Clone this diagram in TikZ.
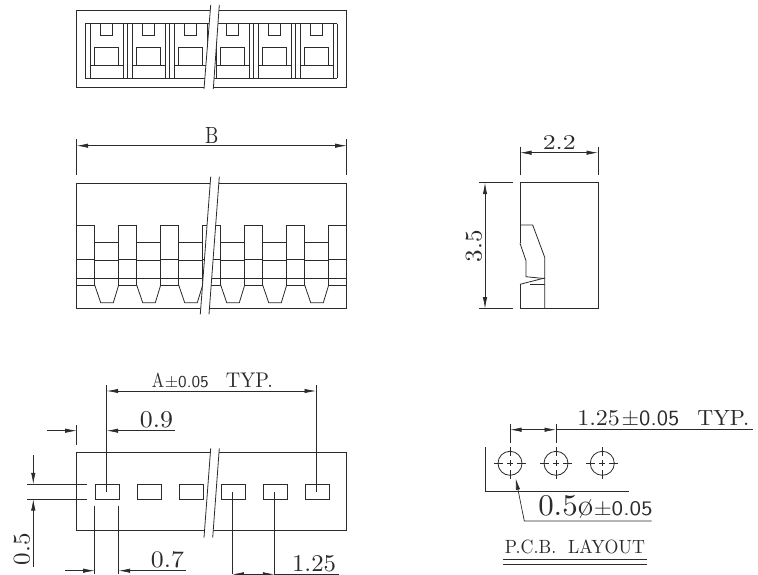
\documentclass[tikz,border=0pt]{standalone}
\usepackage{fontspec}
\usepackage{graphicx}
\usetikzlibrary{arrows.meta}
\newcommand{\tolfont}{\sffamily}
\definecolor{ink}{HTML}{2B2B2B}
\newcommand{\fittext}[3]{\resizebox{#1pt}{#2pt}{#3}}
\tikzset{
  part/.style={draw=ink,line width=0.8pt,line join=miter},
  dimln/.style={draw=ink,line width=0.7pt},
  extln/.style={draw=ink,line width=0.7pt},
  dimarrow/.style={draw=ink,line width=0.7pt,-{Latex[length=11.5pt,width=4.4pt]}},
  dimboth/.style={draw=ink,line width=0.7pt,{Latex[length=11.5pt,width=4.4pt]}-{Latex[length=11.5pt,width=4.4pt]}},
  lbl/.style={inner sep=0pt,outer sep=0pt,text=ink},
  breakfill/.style={fill=white,draw=none},
  breakln/.style={draw=ink,line width=0.8pt},
}
\begin{document}
\begin{tikzpicture}[x=1pt,y=-1pt]
\useasboundingbox[fill=white] (0,0) rectangle (758,575);

% ---------- top view ----------
\draw[part] (76.7,10) rectangle (346.7,87.7);
\draw[part] (85.3,23.7) -- (337.3,23.7) (85.3,78.3) -- (337.3,78.3);
\foreach \s in {85.3,127.3,169.3,211.3,253.3,295.3}{
  \begin{scope}[shift={(\s,0)}]
    \draw[part] (0.2,23.7) -- (0.2,78.3);
    \draw[part] (5.4,23.7) -- (5.4,78.3);
    \draw[part] (38,23.7) -- (38,78.3);
    \draw[part] (15.4,23.7) -- (15.4,35.7) -- (27.4,35.7) -- (27.4,23.7);
    \draw[part] (9.4,65.7) -- (9.4,47.3) -- (33.4,47.3) -- (33.4,65.7);
    \draw[part] (5.4,65.7) -- (38,65.7);
    \draw[part] (41.6,23.7) -- (41.6,78.3);
  \end{scope}
}
\fill[breakfill] (210.7,5) -- (219.3,5) -- (213.3,89) -- (204,89) -- cycle;
\draw[breakln] (210.7,5) -- (204,89) (219.3,5) -- (213.3,89);

% ---------- front view ----------
\draw[part] (76.7,225) -- (76.7,183) -- (346.7,183) -- (346.7,225);
\draw[part] (76.7,225) -- (76.7,308.3) -- (346.7,308.3) -- (346.7,225);
\draw[part] (76.7,278.7) -- (346.7,278.7);
\foreach \s in {76.7,118.7,160.7,202.7,244.7,286.7,328.7}{
  \draw[part] (\s,285) -- (\s,225) -- ({\s+18},225) -- ({\s+18},285);
  \draw[part] (\s,259.3) -- ({\s+18},259.3);
  \draw[part] (\s,285) -- ({\s+18},285);
}
\foreach \s in {94.7,136.7,178.7,220.7,262.7,304.7}{
  \draw[part] (\s,242.7) -- ({\s+24},242.7);
  \draw[part] (\s,260.7) -- ({\s+24},260.7);
  \draw[part] (\s,285) -- ({\s+6},302.7) -- ({\s+18.6},302.7) -- ({\s+24},285);
}
\fill[breakfill] (210.7,176.7) -- (219.3,176.7) -- (209,314.3) -- (200.3,314.3) -- cycle;
\draw[breakln] (210.7,176.7) -- (200.3,314.3) (219.3,176.7) -- (209,314.3);

% B dimension
\coordinate (bl) at (76.7,145.7);
\coordinate (br) at (346.7,145.7);
\draw[extln] (76.7,139.3) -- (76.7,175) (346.7,139.3) -- (346.7,175);
\draw[dimboth] (bl) -- (br);
\node[lbl] (tb) at (211.7,135.3) {\fittext{13.3}{16}{B}};

% ---------- side view ----------
\draw[part] (520,243.3) -- (520,182.7) -- (598,182.7) -- (598,308.7) -- (520,308.7) -- (520,284.3);
\draw[part] (520,243.3) -- (526,260.7) -- (526,276.7) -- (544.7,278.6);
\draw[part] (520,225) -- (532.7,225) -- (544.7,257.3) -- (544.7,308.7);
\draw[part] (520,284.3) -- (544.7,278);
\draw[part] (530,284) -- (544.7,284);
\coordinate (sl) at (520,152.7);
\coordinate (sr) at (598,152.7);
\draw[extln] (520,146.7) -- (520,175) (598,146.7) -- (598,175);
\draw[dimboth] (sl) -- (sr);
\node[lbl] (t22) at (559.3,142) {\fittext{33}{14}{2.2}};
\coordinate (vt) at (485,182.7);
\coordinate (vb) at (485,308.7);
\draw[extln] (479.3,182.7) -- (513.3,182.7) (479.3,308.7) -- (513.3,308.7);
\draw[dimboth] (vt) -- (vb);
\node[lbl,rotate=90] (t35) at (474,246) {\fittext{32}{16}{3.5}};

% ---------- bottom view ----------
\draw[part] (76.7,452.7) rectangle (346.7,530.7);
\foreach \s [count=\i] in {94.7,136.7,178.7,220.7,262.7,304.7}{
  \node[draw=ink,line width=0.8pt,minimum width=24pt,minimum height=14.7pt,inner sep=0pt,anchor=north west,fill=white] (p\i) at (\s,484.3) {};
}
\fill[breakfill] (210.7,448.3) -- (219.3,448.3) -- (212.7,537.7) -- (204,537.7) -- cycle;
\draw[breakln] (210.7,448.3) -- (204,537.7) (219.3,448.3) -- (212.7,537.7);

% A dimension
\coordinate (aL) at (106.7,391);
\coordinate (aR) at (316,391);
\draw[extln] (106.7,385) -- (106.7,491.7) (316,385) -- (316,491.7);
\draw[dimboth] (aL) -- (aR);
\node[lbl] (ta) at (180.3,380.3) {\fittext{12.3}{14.5}{A}\hspace{0.7pt}\fittext{44}{11.3}{\tolfont ±0.05}};
\node[lbl] (ttyp) at (249.5,380.3) {\fittext{47}{14.5}{TYP.}};

% 0.9 dimension
\coordinate (n1) at (47.3,430.7);
\coordinate (n2) at (76.7,430.7);
\coordinate (n3) at (175,430.7);
\coordinate (n4) at (106.7,430.7);
\draw[extln] (76.7,425) -- (76.7,445);
\draw[dimarrow] (n1) -- (n2);
\draw[dimarrow] (n3) -- (n4);
\node[lbl] (t09) at (156.5,420) {\fittext{33}{16}{0.9}};

% 0.5 dimension
\coordinate (f1) at (33.3,455);
\coordinate (f2) at (33.3,484.3);
\coordinate (f3) at (33.3,566.7);
\coordinate (f4) at (33.3,499);
\draw[extln] (27.3,484.3) -- (87.3,484.3) (27.3,499) -- (87.3,499);
\draw[dimarrow] (f1) -- (f2);
\draw[dimarrow] (f3) -- (f4);
\node[lbl,rotate=90] (t05) at (22,549) {\fittext{32}{16}{0.5}};

% 0.7 dimension
\coordinate (s1) at (65,570.7);
\coordinate (s2) at (94.7,570.7);
\coordinate (s3) at (186,570.7);
\coordinate (s4) at (118.7,570.7);
\draw[extln] (94.7,505.7) -- (94.7,574) (118.7,505.7) -- (118.7,574);
\draw[dimarrow] (s1) -- (s2);
\draw[dimarrow] (s3) -- (s4);
\node[lbl] (t07) at (167.5,560) {\fittext{33}{16}{0.7}};

% 1.25 dimension
\coordinate (q1) at (232.3,574.3);
\coordinate (q2) at (274.3,574.3);
\coordinate (q3) at (339.3,574.3);
\draw[extln] (232.3,491.7) -- (232.3,574.3) (274.3,491.7) -- (274.3,574.3);
\draw[dimboth] (q1) -- (q2);
\draw[dimln] (q2) -- (q3);
\node[lbl] (t125) at (314,563.7) {\fittext{44}{16}{1.25}};

% ---------- PCB layout ----------
\foreach \c [count=\i] in {510,556,602.3}{
  \node[draw=ink,line width=0.8pt,circle,minimum size=24pt,inner sep=0pt] (h\i) at (\c,463.3) {};
  \draw[dimln] ({\c-16},463.3) -- ({\c-7},463.3) ({\c-3},463.3) -- ({\c+3},463.3) ({\c+7},463.3) -- ({\c+16},463.3);
  \draw[dimln] (\c,447.3) -- (\c,456.3) (\c,460.3) -- (\c,466.3) (\c,470.3) -- (\c,479.3);
}
\coordinate (d1) at (510,429.7);
\coordinate (d2) at (556,429.7);
\coordinate (d3) at (753,429.7);
\draw[extln] (510,424.3) -- (510,443.3) (556,424.3) -- (556,443.3);
\draw[dimboth] (d1) -- (d2);
\draw[dimln] (d2) -- (d3);
\node[lbl] (tp) at (628.3,418.3) {\fittext{42.7}{15}{1.25}\hspace{1.7pt}\fittext{57.6}{14.7}{\tolfont ±0.05}};
\node[lbl] (tq) at (723.3,418.3) {\fittext{52}{15}{TYP.}};
\draw[part] (485.3,447.3) -- (485.3,491.7) -- (629.3,491.7);
\coordinate (l1) at (515.7,478.3);
\coordinate (l2) at (524.3,521);
\coordinate (l3) at (651.7,521);
\draw[dimarrow,{Latex[length=11.5pt,width=4.4pt]}-] (l1) -- (l2) -- (l3);
\node[lbl] (tr) at (595.5,507.2) {\fittext{55}{20}{0.5ø}\hspace{0.5pt}\fittext{59}{14}{\tolfont ±0.05}};
\node[lbl] (tl) at (575,546.8) {\fittext{140}{13.7}{P.C.B.\ \ LAYOUT}};
\coordinate (u1) at (503.3,559);
\coordinate (u2) at (646.7,559);
\coordinate (u3) at (503.3,564);
\coordinate (u4) at (646.7,564);
\draw[dimln] (u1) -- (u2) (u3) -- (u4);
\end{tikzpicture}
\end{document}
